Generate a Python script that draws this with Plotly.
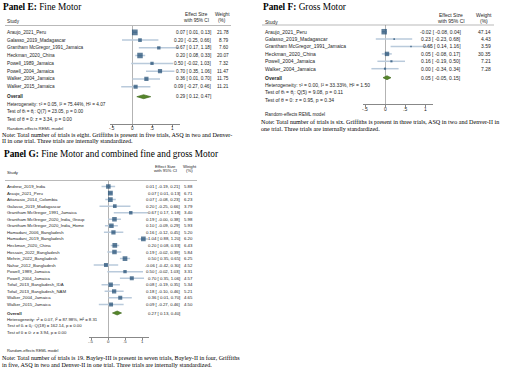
import plotly.graph_objects as go

W, H = 520, 371

# ---------------- data ----------------
e_studies = ["Araujo_2021_Peru", "Galasso_2019_Madagascar", "Grantham McGregor_1991_Jamaica",
             "Heckman_2020_China", "Powell_1989_Jamaica", "Powell_2004_Jamaica",
             "Walker_2004_Jamaica", "Walker_2015_Jamaica"]
e_est = [0.07, 0.20, 0.67, 0.20, 0.50, 0.70, 0.36, 0.09]
e_lo = [0.01, -0.25, 0.17, 0.08, -0.02, 0.35, 0.01, -0.27]
e_hi = [0.13, 0.66, 1.18, 0.33, 1.03, 1.06, 0.70, 0.46]
e_wt = [21.78, 8.79, 7.60, 20.07, 7.32, 11.47, 11.75, 11.21]
e_overall = [0.29, 0.12, 0.47]
e_stats = dict(tau2=0.05, I2=75.44, H2=4.07, df=7, Q=23.05, pQ=0.00, z=3.34, pz=0.00)
e_note = ["Note: Total number of trials is eight. Griffiths is present in five trials, ASQ in two and Denver-",
          "II in one trial. Three trials are internally standardized."]

f_studies = ["Araujo_2021_Peru", "Galasso_2019_Madagascar", "Grantham McGregor_1991_Jamaica",
             "Heckman_2020_China", "Powell_2004_Jamaica", "Walker_2004_Jamaica"]
f_est = [-0.02, 0.23, 0.65, 0.05, 0.16, 0.00]
f_lo = [-0.08, -0.23, 0.14, -0.08, -0.19, -0.34]
f_hi = [0.04, 0.68, 1.16, 0.17, 0.50, 0.34]
f_wt = [47.14, 4.43, 3.59, 30.35, 7.21, 7.28]
f_overall = [0.05, -0.05, 0.15]
f_stats = dict(tau2=0.00, I2=33.33, H2=1.50, df=5, Q=9.08, pQ=0.11, z=0.95, pz=0.34)
f_note = ["Note: Total number of trials is six. Griffiths is present in three trials, ASQ in two and Denver-II in",
          "one trial. Three trials are internally standardized."]

g_studies = ["Andrew_2019_India", "Araujo_2021_Peru", "Attanasio_2014_Colombia", "Galasso_2019_Madagascar",
             "Grantham McGregor_1991_Jamaica", "Grantham McGregor_2020_India_Group",
             "Grantham McGregor_2020_India_Home", "Hamadani_2006_Bangladesh", "Hamadani_2019_Bangladesh",
             "Heckman_2020_China", "Hossain_2022_Bangladesh", "Mehrin_2022_Bangladesh",
             "Nahar_2012_Bangladesh", "Powell_1989_Jamaica", "Powell_2004_Jamaica",
             "Tofail_2013_Bangladesh_IDA", "Tofail_2013_Bangladesh_NAM", "Walker_2004_Jamaica",
             "Walker_2015_Jamaica"]
g_est = [0.01, 0.07, 0.07, 0.20, 0.67, 0.19, 0.10, 0.16, 1.04, 0.20, 0.19, 0.50, -0.06, 0.50, 0.70,
         0.08, 0.18, 0.36, 0.09]
g_lo = [-0.19, 0.01, -0.08, -0.25, 0.17, -0.0, -0.09, -0.12, 0.88, 0.08, -0.02, 0.35, -0.42, -0.02,
        0.35, -0.19, -0.10, 0.01, -0.27]
g_hi = [0.21, 0.13, 0.23, 0.66, 1.18, 0.38, 0.29, 0.45, 1.20, 0.33, 0.39, 0.65, 0.30, 1.03, 1.06,
        0.35, 0.46, 0.70, 0.46]
g_wt = [5.88, 6.71, 6.23, 3.79, 3.40, 5.98, 5.93, 5.20, 6.20, 6.43, 5.84, 6.25, 4.52, 3.31, 4.57,
        5.34, 5.21, 4.65, 4.50]
g_overall = [0.27, 0.13, 0.40]
g_stats = dict(tau2=0.07, I2=87.98, H2=8.31, df=18, Q=162.14, pQ=0.00, z=3.94, pz=0.00)
g_note = ["Note: Total number of trials is 19. Bayley-III is present in seven trials, Bayley-II in four, Griffiths",
          "in five, ASQ in two and Denver-II in one trial. Three trials are internally standardized."]

tick_vals = [-0.5, 0, 0.5, 1]
tick_text = ["-.5", "0", ".5", "1"]

# ---------------- style / geometry (pixels) ----------------
SANS = "Liberation Sans"
SERIF = "Liberation Serif"
TXT = "#1e1e1e"
NAVY = "#1a476f"
CI = "#b9cadb"
GREEN = "#55862a"
DKGREEN = "#3b6418"
AXC = "#555555"
ZC = "#a0a0a0"

panels = [
    dict(letter="E", name="Fine Motor", studies=e_studies, est=e_est, lo=e_lo, hi=e_hi, wt=e_wt,
         ov=e_overall, st=e_stats, note=e_note,
         title=(2, 7.5), study_x=6, hdr=(14.5, 20.5), line=(25.5, 5, 231), es_right=212, es_c=196.5,
         wt_right=229.5, wt_c=222, zero=132, ppu=40, row0=32.3, step=7.77, overall=96.7,
         het=[104.3, 112.0, 119.7], axis=124.3, reml=(6, 128.8), notes=(1, [134.8, 141.3]), fs=4.7),
    dict(letter="F", name="Gross Motor", studies=f_studies, est=f_est, lo=f_lo, hi=f_hi, wt=f_wt,
         ov=f_overall, st=f_stats, note=f_note,
         title=(262, 7.5), study_x=264, hdr=(15, 20.7), line=(25, 262, 494), es_right=462, es_c=451,
         wt_right=492, wt_c=483.5, zero=385, ppu=40, row0=31.7, step=7.4, overall=77.7,
         het=[85.3, 92.6, 99.9], axis=104.0, reml=(264, 115), notes=(260, [122.3, 128.8]), fs=5.0),
    dict(letter="G", name="Fine Motor and combined fine and gross Motor", studies=g_studies, est=g_est,
         lo=g_lo, hi=g_hi, wt=g_wt, ov=g_overall, st=g_stats, note=g_note,
         title=(3, 154), study_x=6, hdr=(166, 171), line=(180.5, 5, 197), es_right=180.5, es_c=165.5,
         wt_right=193.5, wt_c=189.5, zero=108, ppu=34, row0=186.5, step=6.55, overall=313,
         het=[319.3, 326.0, 332.5], axis=337, reml=(6, 350.5), notes=(1, [358, 364.8]), fs=4.3),
]

fig = go.Figure()
annotations = []
shapes = []
layout = {}


def px_x(p):
    return p / W


def px_y(p):
    return 1 - p / H


def txt(x, y, text, size, anchor="left", family=SANS, color=TXT, xref="paper", yref="paper"):
    annotations.append(dict(x=x, y=y, xref=xref, yref=yref, text=text, showarrow=False,
                            xanchor=anchor, yanchor="middle", borderpad=0,
                            font=dict(family=family, size=size, color=color)))


def fmt_ci(e, l, h):
    return f"{e:.2f} [ {l:.2f}, {h:.2f}]"


XR = [-0.55, 1.2]

for k, p in enumerate(panels, start=1):
    xa_id = "x" if k == 1 else f"x{k}"
    ya_id = "y" if k == 1 else f"y{k}"
    xa_key = "xaxis" if k == 1 else f"xaxis{k}"
    ya_key = "yaxis" if k == 1 else f"yaxis{k}"
    fs = p["fs"]
    n = len(p["studies"])
    step = p["step"]
    row0 = p["row0"]
    ov_row = (p["overall"] - row0) / step
    y_top = (p["line"][0] - row0) / step
    y_bot = (p["axis"] - row0) / step
    x0px = p["zero"] + XR[0] * p["ppu"]
    x1px = p["zero"] + XR[1] * p["ppu"]

    layout[xa_key] = dict(domain=[x0px / W, x1px / W], range=XR, anchor=ya_id, showline=True,
                          linecolor=AXC, linewidth=0.7, ticks="outside", ticklen=2, tickwidth=0.7,
                          tickcolor=AXC, tickvals=tick_vals, showticklabels=False, showgrid=False,
                          zeroline=True, zerolinecolor=ZC, zerolinewidth=0.8, fixedrange=True)
    layout[ya_key] = dict(domain=[1 - p["axis"] / H, 1 - p["line"][0] / H], range=[y_bot, y_top],
                          anchor=xa_id, visible=False, showgrid=False, zeroline=False, fixedrange=True)

    rows = list(range(n))
    # CI lines
    cx, cy = [], []
    for i in rows:
        cx += [p["lo"][i], p["hi"][i], None]
        cy += [i, i, None]
    fig.add_trace(go.Scatter(x=cx, y=cy, mode="lines", line=dict(color=CI, width=1.5),
                             xaxis=xa_id, yaxis=ya_id, hoverinfo="skip", showlegend=False))
    # weight squares
    smax = 0.74 * step
    wmax = max(p["wt"])
    sizes = [smax * (w / wmax) ** 0.5 for w in p["wt"]]
    fig.add_trace(go.Scatter(x=p["est"], y=rows, mode="markers",
                             marker=dict(symbol="square", size=sizes, color=NAVY, line=dict(width=0)),
                             xaxis=xa_id, yaxis=ya_id, hoverinfo="skip", showlegend=False))
    # overall diamond
    oe, ol, oh = p["ov"]
    hd = 2.0 / step
    fig.add_trace(go.Scatter(x=[ol, oe, oh, oe, ol], y=[ov_row, ov_row - hd, ov_row, ov_row + hd, ov_row],
                             mode="lines", fill="toself", fillcolor=GREEN,
                             line=dict(color=DKGREEN, width=0.6),
                             xaxis=xa_id, yaxis=ya_id, hoverinfo="skip", showlegend=False))

    # tick labels
    for tv, tt in zip(tick_vals, tick_text):
        txt(tv, px_y(p["axis"] + 4.6), tt, fs, anchor="center", xref=xa_id)

    # title
    tx, ty = p["title"]
    txt(px_x(tx), px_y(ty), f"<b>Panel {p['letter']}:</b> {p['name']}", 9.3, family=SERIF, color="#000")
    # header
    h1, h2 = p["hdr"]
    txt(px_x(p["es_c"]), px_y(h1), "Effect Size", fs, anchor="center")
    txt(px_x(p["es_c"]), px_y(h2), "with 95% CI", fs, anchor="center")
    txt(px_x(p["wt_c"]), px_y(h1), "Weight", fs, anchor="center")
    txt(px_x(p["wt_c"]), px_y(h2), "(%)", fs, anchor="center")
    txt(px_x(p["study_x"]), px_y(h2 + 1), "Study", fs)
    ly, lx0, lx1 = p["line"]
    shapes.append(dict(type="line", xref="paper", yref="paper", x0=px_x(lx0), x1=px_x(lx1),
                       y0=px_y(ly), y1=px_y(ly), line=dict(color="#8a8a8a", width=0.6)))
    # rows
    for i in rows:
        txt(px_x(p["study_x"]), i, p["studies"][i], fs, yref=ya_id)
        txt(px_x(p["es_right"]), i, fmt_ci(p["est"][i], p["lo"][i], p["hi"][i]), fs, anchor="right", yref=ya_id)
        txt(px_x(p["wt_right"]), i, f"{p['wt'][i]:.2f}", fs, anchor="right", yref=ya_id)
    txt(px_x(p["study_x"]), ov_row, "<b>Overall</b>", fs, yref=ya_id)
    txt(px_x(p["es_right"]), ov_row, fmt_ci(oe, ol, oh), fs, anchor="right", yref=ya_id)
    # heterogeneity
    s = p["st"]
    het_lines = [
        f"Heterogeneity: τ² = {s['tau2']:.2f}, I² = {s['I2']:.2f}%, H² = {s['H2']:.2f}",
        f"Test of θᵢ = θⱼ: Q({s['df']}) = {s['Q']:.2f}, p = {s['pQ']:.2f}",
        f"Test of θ = 0: z = {s['z']:.2f}, p = {s['pz']:.2f}",
    ]
    for yy, t in zip(p["het"], het_lines):
        txt(px_x(p["study_x"]), px_y(yy), t, fs)
    rx, ry = p["reml"]
    txt(px_x(rx), px_y(ry), "Random-effects REML model", fs * 0.92)
    nx, nys = p["notes"]
    for yy, t in zip(nys, p["note"]):
        txt(px_x(nx), px_y(yy), t, 6.1, family=SERIF, color="#000")

fig.update_layout(width=W, height=H, margin=dict(l=0, r=0, t=0, b=0), paper_bgcolor="white",
                  plot_bgcolor="white", showlegend=False, hovermode=False,
                  annotations=annotations, shapes=shapes, **layout)

fig.write_html("out.html", config={"displayModeBar": False, "staticPlot": True},
               post_script="document.body.style.margin='0';document.body.style.overflow='hidden';")
